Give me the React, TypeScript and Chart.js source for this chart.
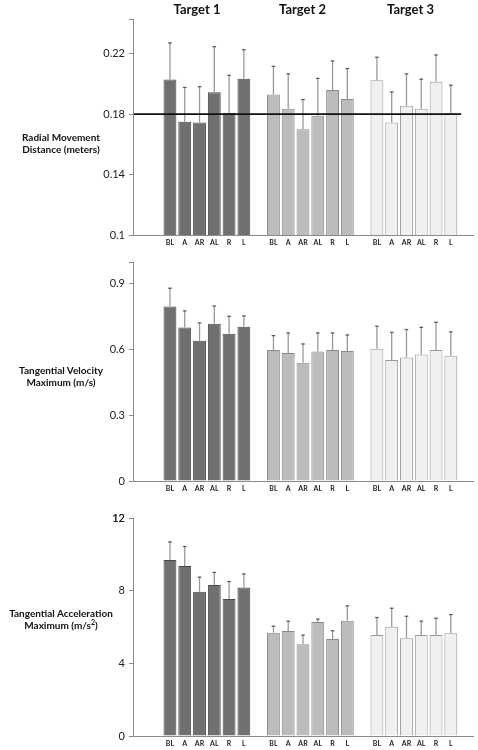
import React, { useEffect, useRef } from "react";
import { Chart, registerables } from "chart.js";
Chart.register(...registerables);

// ---------- data ----------
const conditions = ["BL", "A", "AR", "AL", "R", "L"];
const targets = ["Target 1", "Target 2", "Target 3"];

// Radial movement distance (m)
const radialT1 = [0.203, 0.175, 0.1745, 0.1945, 0.181, 0.2035];
const radialT2 = [0.193, 0.1835, 0.17, 0.179, 0.196, 0.19];
const radialT3 = [0.2025, 0.1745, 0.1855, 0.1835, 0.2015, 0.181];
const radialSdT1 = [0.0245, 0.023, 0.024, 0.0305, 0.025, 0.0195];
const radialSdT2 = [0.019, 0.0235, 0.02, 0.025, 0.0195, 0.0205];
const radialSdT3 = [0.0155, 0.0205, 0.0215, 0.02, 0.018, 0.0185];
const radialTicks = [0.1, 0.14, 0.18, 0.22];
const radialMin = 0.1;
const radialMax = 0.243;
const radialReference = 0.18;

// Tangential velocity maximum (m/s)
const velT1 = [0.797, 0.701, 0.64, 0.718, 0.672, 0.704];
const velT2 = [0.598, 0.584, 0.54, 0.591, 0.598, 0.594];
const velT3 = [0.604, 0.553, 0.564, 0.578, 0.598, 0.572];
const velSdT1 = [0.0855, 0.078, 0.084, 0.0835, 0.0825, 0.052];
const velSdT2 = [0.068, 0.094, 0.088, 0.087, 0.08, 0.075];
const velSdT3 = [0.105, 0.128, 0.13, 0.126, 0.129, 0.111];
const velTicks = [0, 0.3, 0.6, 0.9];
const velMin = 0;
const velMax = 1.0;

// Tangential acceleration maximum (m/s^2)
const accT1 = [9.69, 9.36, 7.94, 8.31, 7.54, 8.18];
const accT2 = [5.69, 5.78, 5.05, 6.27, 5.34, 6.35];
const accT3 = [5.56, 6.02, 5.38, 5.56, 5.56, 5.65];
const accSdT1 = [1.02, 1.1, 0.83, 0.72, 0.99, 0.77];
const accSdT2 = [0.38, 0.57, 0.53, 0.19, 0.48, 0.84];
const accSdT3 = [0.99, 1.04, 1.24, 0.79, 0.95, 1.06];
const accTicks = [0, 4, 8, 12];
const accMin = 0;
const accMax = 12;

// ---------- styling ----------
const groupFill = ["#707070", "#bcbcbc", "#f0f0f0"];
const groupBorder = ["#4a4a4a", "#8a8a8a", "#9a9a9a"];
const FONT = "Lato, 'DejaVu Sans', sans-serif";

type PanelProps = {
  means: number[][];
  sds: number[][];
  min: number;
  max: number;
  ticks: number[];
  padTop: number;
  axisH: number;
  refLine?: number;
};

function buildSeries(groups: number[][]) {
  // 2 leading slots, one gap slot between targets, 1 trailing slot
  const out: (number | null)[] = [null, null];
  groups.forEach((g, gi) => {
    g.forEach((v) => out.push(v));
    if (gi < groups.length - 1) out.push(null);
  });
  out.push(null);
  return out;
}

function buildLabels() {
  const out: string[] = ["", ""];
  targets.forEach((_, gi) => {
    conditions.forEach((c) => out.push(c));
    if (gi < targets.length - 1) out.push("");
  });
  out.push("");
  return out;
}

function buildGroupIdx() {
  const out: number[] = [-1, -1];
  targets.forEach((_, gi) => {
    conditions.forEach(() => out.push(gi));
    if (gi < targets.length - 1) out.push(-1);
  });
  out.push(-1);
  return out;
}

function Panel(props: PanelProps) {
  const ref = useRef<HTMLCanvasElement | null>(null);
  useEffect(() => {
    const { means, sds, min, max, ticks, padTop, axisH, refLine } = props;
    const labels = buildLabels();
    const data = buildSeries(means);
    const errs = buildSeries(sds);
    const gidx = buildGroupIdx();

    const errorPlugin = {
      id: "errbars",
      afterDatasetsDraw(chart: any) {
        const ctx = chart.ctx;
        const meta = chart.getDatasetMeta(0);
        const y = chart.scales.y;
        const x = chart.scales.x;
        ctx.save();
        meta.data.forEach((el: any, i: number) => {
          const v = data[i];
          const e = errs[i];
          if (v == null || e == null) return;
          const top = y.getPixelForValue(v + e);
          const base = y.getPixelForValue(v);
          ctx.strokeStyle = "#9a9a9a";
          ctx.lineWidth = 1.3;
          ctx.beginPath();
          ctx.moveTo(el.x, base);
          ctx.lineTo(el.x, top);
          ctx.stroke();
          ctx.strokeStyle = "#555";
          ctx.lineWidth = 1.2;
          ctx.beginPath();
          ctx.moveTo(el.x - 1.8, top + 0.5);
          ctx.lineTo(el.x + 1.8, top + 0.5);
          ctx.stroke();
        });
        if (refLine !== undefined) {
          const ry = y.getPixelForValue(refLine);
          const last = labels.length - 2;
          const slot = x.getPixelForValue(1) - x.getPixelForValue(0);
          ctx.strokeStyle = "#111";
          ctx.lineWidth = 1.8;
          ctx.beginPath();
          ctx.moveTo(chart.chartArea.left + 1, ry);
          ctx.lineTo(x.getPixelForValue(last) + slot * 0.7, ry);
          ctx.stroke();
        }
        ctx.restore();
      },
    };

    const chart = new Chart(ref.current as HTMLCanvasElement, {
      type: "bar",
      data: {
        labels,
        datasets: [
          {
            data: data as any,
            backgroundColor: gidx.map((g) => (g >= 0 ? groupFill[g] : "transparent")),
            borderColor: gidx.map((g) => (g >= 0 ? groupBorder[g] : "transparent")),
            borderWidth: 1,
            barPercentage: 0.87,
            categoryPercentage: 1,
          },
        ],
      },
      options: {
        animation: false,
        responsive: false,
        maintainAspectRatio: false,
        layout: { padding: { top: padTop, right: 5, left: 0, bottom: 0 } },
        plugins: { legend: { display: false }, tooltip: { enabled: false }, title: { display: false } },
        scales: {
          x: {
            type: "category",
            offset: true,
            grid: { display: true, drawOnChartArea: false, drawTicks: false },
            border: { display: true, color: "#8a8a8a", width: 1 },
            ticks: {
              autoSkip: false,
              maxRotation: 0,
              minRotation: 0,
              padding: 4,
              color: "#222",
              font: { family: FONT, size: 7, weight: "bold" },
            },
            afterFit: (s: any) => {
              s.height = axisH;
            },
          },
          y: {
            type: "linear",
            min,
            max,
            grid: { display: true, drawOnChartArea: false, drawTicks: true, tickLength: 4, color: "#8a8a8a" },
            border: { display: true, color: "#8a8a8a", width: 1 },
            afterBuildTicks: (s: any) => {
              const t = ticks.map((v) => ({ value: v }));
              t.push({ value: max });
              s.ticks = t;
            },
            ticks: {
              padding: 4,
              color: "#222",
              font: { family: FONT, size: 11 },
              callback: (v: any) => (ticks.some((t) => Math.abs(t - v) < 1e-9) ? String(+Number(v).toFixed(2)) : ""),
            },
            afterFit: (s: any) => {
              s.width = 133;
            },
          },
        },
      },
      plugins: [errorPlugin],
    });
    return () => chart.destroy();
  }, []);
  return <canvas ref={ref} width={478} height={250} style={{ display: "block", width: 478, height: 250 }} />;
}

const titleStyle: React.CSSProperties = {
  position: "absolute",
  fontFamily: FONT,
  fontWeight: 700,
  fontSize: 10,
  lineHeight: "12px",
  color: "#111",
  textAlign: "center",
  width: 130,
  left: -4,
  whiteSpace: "nowrap",
};

const targetStyle: React.CSSProperties = {
  position: "absolute",
  fontFamily: FONT,
  fontWeight: 700,
  fontSize: 13,
  lineHeight: "14px",
  color: "#111",
  transform: "translateX(-50%)",
  whiteSpace: "nowrap",
  top: 2,
};

const targetCenters = [197, 302.5, 410.5];

export default function App() {
  return (
    <div style={{ position: "absolute", left: 0, top: 0, width: 478, height: 750, background: "#fff" }}>
      <div style={{ position: "absolute", left: 0, top: 0 }}>
        <Panel
          means={[radialT1, radialT2, radialT3]}
          sds={[radialSdT1, radialSdT2, radialSdT3]}
          min={radialMin}
          max={radialMax}
          ticks={radialTicks}
          padTop={19}
          axisH={15}
          refLine={radialReference}
        />
      </div>
      <div style={{ position: "absolute", left: 0, top: 250 }}>
        <Panel
          means={[velT1, velT2, velT3]}
          sds={[velSdT1, velSdT2, velSdT3]}
          min={velMin}
          max={velMax}
          ticks={velTicks}
          padTop={12}
          axisH={19}
        />
      </div>
      <div style={{ position: "absolute", left: 0, top: 500 }}>
        <Panel
          means={[accT1, accT2, accT3]}
          sds={[accSdT1, accSdT2, accSdT3]}
          min={accMin}
          max={accMax}
          ticks={accTicks}
          padTop={18}
          axisH={14}
        />
      </div>
      {targets.map((t, i) => (
        <div key={t} style={{ ...targetStyle, left: targetCenters[i] }}>
          {t}
        </div>
      ))}
      <div style={{ ...titleStyle, top: 131 }}>
        Radial Movement
        <br />
        Distance (meters)
      </div>
      <div style={{ ...titleStyle, top: 364 }}>
        Tangential Velocity
        <br />
        Maximum (m/s)
      </div>
      <div style={{ ...titleStyle, top: 607 }}>
        Tangential Acceleration
        <br />
        Maximum (m/s<sup style={{ fontSize: 7, lineHeight: 0 }}>2</sup>)
      </div>
    </div>
  );
}
